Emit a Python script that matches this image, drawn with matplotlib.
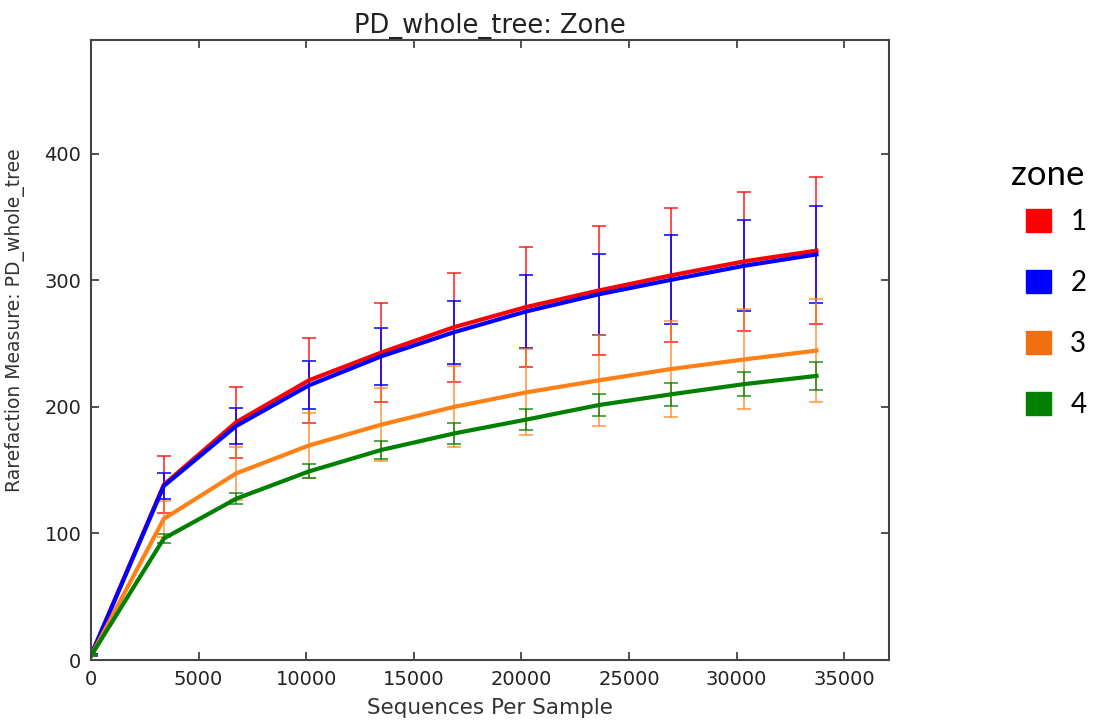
import matplotlib
matplotlib.use("Agg")
import matplotlib.pyplot as plt
from matplotlib.patches import Patch

# rarefaction depths
depths = [10, 3380, 6750, 10120, 13490, 16860, 20230, 23600, 26970, 30340, 33710]

zones = ["1", "2", "3", "4"]
colors = ["#ff0000", "#0000ff", "#ff8015", "#008000"]
legend_colors = ["#ff0000", "#0000ff", "#f07010", "#007f00"]

mean_1 = [4, 138.5, 188, 221, 243, 263, 279, 292, 304, 315, 323.5]
err_1 = [0.5, 22.5, 28, 33.5, 39.5, 43, 47.5, 51, 53, 55, 58]
mean_2 = [4, 137.5, 185, 217, 240, 259, 275.5, 289, 300.5, 311.5, 320.5]
err_2 = [0.5, 10.5, 14.5, 19, 22.5, 25, 29, 32, 35, 36, 38.5]
mean_3 = [3.5, 111.5, 147.5, 169.5, 186, 200, 211.5, 221, 230, 237.5, 244.5]
err_3 = [0.5, 14, 21, 26, 29, 32, 34, 36, 38, 39.5, 41]
mean_4 = [3.5, 96, 127.5, 149, 166, 179, 190, 201.5, 210, 218, 224.5]
err_4 = [0.5, 3.5, 4.5, 5.5, 7, 8, 8.5, 9, 9, 9.5, 11]

means = [mean_1, mean_2, mean_3, mean_4]
errs = [err_1, err_2, err_3, err_4]
bar_alpha = [0.75, 0.85, 0.7, 0.75]

fig = plt.figure(figsize=(10.94, 7.21), dpi=100)
ax = fig.add_axes([0.0832, 0.0846, 0.7294, 0.86])

for m, e, c, a in zip(means, errs, colors, bar_alpha):
    ax.errorbar(depths, m, yerr=e, color=c, ecolor=c, elinewidth=1.3,
                capsize=5, capthick=1.3, alpha=a, linewidth=0)
for m, c in zip(means, colors):
    ax.plot(depths, m, color=c, linewidth=3)

ax.set_xlim(0, 37080)
ax.set_ylim(0, 490)
ax.set_xticks(range(0, 35001, 5000))
ax.set_yticks([0, 100, 200, 300, 400])
ax.tick_params(direction="in", top=True, right=True, labelsize=14, length=6,
               width=1.2, colors="#333333", labelcolor="#222222", pad=7)
for s in ax.spines.values():
    s.set_color("#444444")
    s.set_linewidth(1.5)

ax.set_title("PD_whole_tree: Zone", fontsize=18.5, color="#222222", pad=5)
ax.set_xlabel("Sequences Per Sample", fontsize=15.5, color="#333333", labelpad=7)
ax.set_ylabel("Rarefaction Measure: PD_whole_tree", fontsize=13.5, color="#333333")
ax.yaxis.set_label_coords(-0.083, 0.548)

# legend drawn outside the axes, title placed separately
fig.text(0.9575, 0.757, "zone", family="Lato", fontsize=25, ha="center", va="center")
handles = [Patch(facecolor=c, edgecolor=c) for c in legend_colors]
leg = fig.legend(handles, zones, loc="upper left",
                 bbox_to_anchor=(0.925, 0.729), frameon=False,
                 prop={"family": "Lato", "size": 20},
                 handlelength=0.9, handleheight=0.9, handletextpad=0.7,
                 labelspacing=1.25, borderpad=0)

fig.savefig("out.png", dpi=100)
